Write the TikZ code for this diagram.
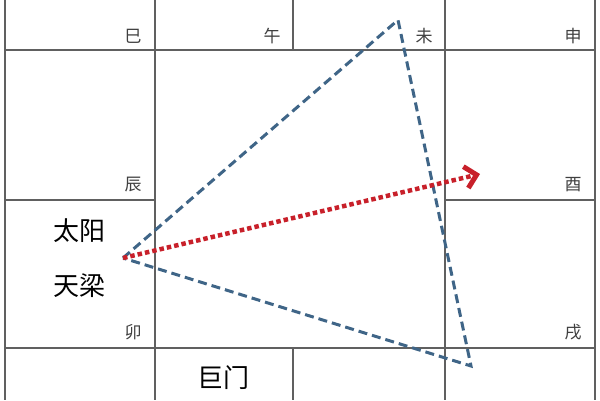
\documentclass[tikz,border=0pt]{standalone}
\usepackage{fontspec}
\setmainfont{Noto Sans CJK SC}
\usetikzlibrary{arrows.meta}
\definecolor{gridc}{HTML}{606060}
\definecolor{tric}{HTML}{3F6587}
\definecolor{arrc}{HTML}{C8202A}
\tikzset{
  gridline/.style={draw=gridc,line width=1.5pt},
  small/.style={font=\fontsize{17}{17}\selectfont,text=black!75,inner sep=0pt},
  big/.style={font=\fontsize{26}{26}\selectfont,text=black,inner sep=0pt},
  tri/.style={draw=tric,line width=3pt,dash pattern=on 9pt off 5pt},
  arr/.style={draw=arrc,line width=4.5pt,dash pattern=on 4.5pt off 3pt,
    -{Straight Barb[length=11pt,width=22pt,line width=5pt,line join=miter]}}
}
\begin{document}
\begin{tikzpicture}[x=1pt,y=-1pt]
\useasboundingbox (0,0) rectangle (600,400);
\fill[white] (0,0) rectangle (600,400);
% grid
\draw[gridline] (5,0) -- (5,400);
\draw[gridline] (595,0) -- (595,400);
\draw[gridline] (155,0) -- (155,400);
\draw[gridline] (445,0) -- (445,400);
\draw[gridline] (293,0) -- (293,50);
\draw[gridline] (293,348) -- (293,400);
\draw[gridline] (5,50) -- (595,50);
\draw[gridline] (5,348) -- (595,348);
\draw[gridline] (5,200) -- (155,200);
\draw[gridline] (445,200) -- (595,200);
% branch labels
\node[small] (si) at (133,36) {巳};
\node[small] (wu) at (272,36) {午};
\node[small] (wei) at (424,36) {未};
\node[small] (shen) at (573,36) {申};
\node[small] (chen) at (133,185) {辰};
\node[small] (you) at (573,185) {酉};
\node[small] (mao) at (133,332) {卯};
\node[small] (xu) at (573,332) {戌};
% stars
\node[big] (taiyang) at (79,231) {太阳};
\node[big] (tianliang) at (79,286) {天梁};
\node[big] (jumen) at (223,378) {巨门};
% triangle
\coordinate (A) at (123,258);
\coordinate (B) at (398,20);
\coordinate (C) at (471,366);
\draw[tri] (A) -- (B) -- (C) -- cycle;
% arrow
\coordinate (T) at (480,174);
\draw[arr] (A) -- (T);
\end{tikzpicture}
\end{document}
